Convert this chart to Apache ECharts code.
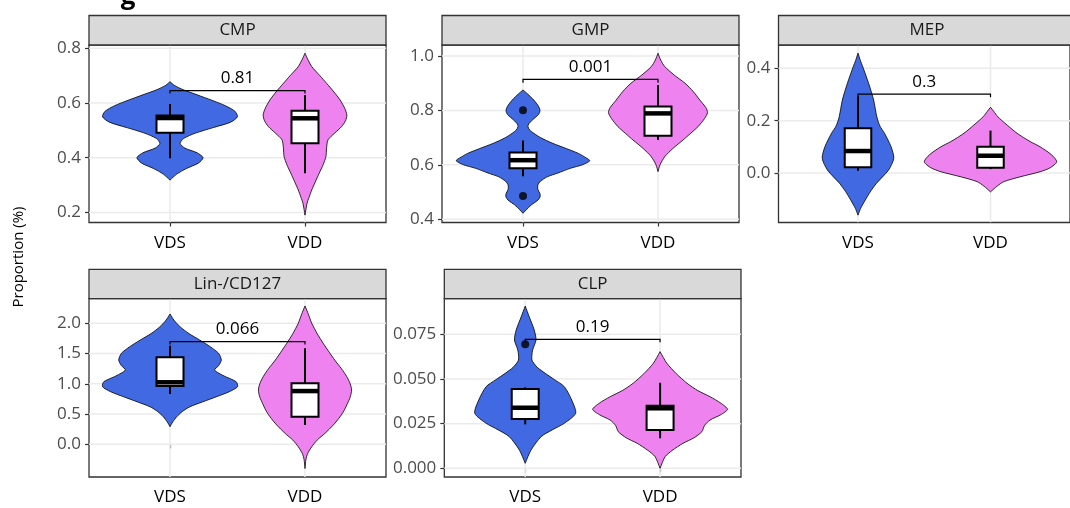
<!DOCTYPE html>
<html><head><meta charset="utf-8">
<script src="https://cdn.jsdelivr.net/npm/echarts@6/dist/echarts.min.js"></script>
<style>html,body{margin:0;padding:0;background:#fff}#c{width:1070px;height:508px}</style>
</head><body><div id="c"></div>
<script>
// ---------- DATA ----------
const categories = ['VDS', 'VDD'];
const panelNames = ['CMP', 'GMP', 'MEP', 'Lin-/CD127', 'CLP'];
const pValues = ['0.81', '0.001', '0.3', '0.066', '0.19'];

const cmpTicks = [0.2, 0.4, 0.6, 0.8];
const gmpTicks = [0.4, 0.6, 0.8, 1.0];
const mepTicks = [0.0, 0.2, 0.4];
const linTicks = [0.0, 0.5, 1.0, 1.5, 2.0];
const clpTicks = [0.000, 0.025, 0.050, 0.075];

const yMins = [0.163, 0.388, -0.189, -0.540, -0.00487];
const yMaxs = [0.812, 1.0404, 0.489, 2.408, 0.095];

// violin profiles: [value, half-width]
const cmpVdsViolin = [[0.678,0],[0.665,0.03],[0.648,0.1],[0.63,0.2],[0.61,0.31],[0.59,0.41],[0.57,0.48],[0.55,0.5],[0.53,0.45],[0.51,0.32],[0.49,0.19],[0.47,0.1],[0.452,0.075],[0.435,0.11],[0.418,0.2],[0.40,0.245],[0.38,0.21],[0.36,0.12],[0.34,0.05],[0.318,0]];
const cmpVddViolin = [[0.782,0],[0.76,0.02],[0.733,0.05],[0.70,0.11],[0.672,0.16],[0.64,0.215],[0.611,0.26],[0.58,0.295],[0.556,0.31],[0.535,0.3],[0.513,0.27],[0.49,0.22],[0.465,0.17],[0.435,0.16],[0.404,0.155],[0.375,0.135],[0.343,0.105],[0.31,0.075],[0.282,0.05],[0.255,0.03],[0.233,0.015],[0.19,0]];
const gmpVdsViolin = [[0.875,0],[0.86,0.035],[0.838,0.08],[0.815,0.115],[0.80,0.126],[0.785,0.115],[0.765,0.07],[0.75,0.042],[0.74,0.037],[0.728,0.05],[0.716,0.08],[0.70,0.13],[0.679,0.22],[0.66,0.32],[0.642,0.41],[0.625,0.47],[0.615,0.495],[0.60,0.44],[0.587,0.35],[0.57,0.26],[0.556,0.18],[0.54,0.13],[0.526,0.11],[0.51,0.11],[0.495,0.125],[0.483,0.127],[0.47,0.11],[0.452,0.06],[0.435,0.025],[0.422,0]];
const gmpVddViolin = [[1.01,0],[0.985,0.02],[0.961,0.05],[0.93,0.12],[0.90,0.2],[0.87,0.26],[0.838,0.31],[0.81,0.355],[0.792,0.367],[0.77,0.345],[0.74,0.296],[0.715,0.24],[0.691,0.185],[0.66,0.11],[0.63,0.05],[0.60,0.015],[0.575,0]];
const mepVdsViolin = [[0.458,0],[0.43,0.018],[0.406,0.036],[0.343,0.08],[0.279,0.118],[0.215,0.142],[0.18,0.165],[0.152,0.2],[0.1,0.25],[0.056,0.27],[0.011,0.23],[-0.039,0.14],[-0.07,0.095],[-0.103,0.055],[-0.135,0.02],[-0.161,0]];
const mepVddViolin = [[0.251,0],[0.235,0.025],[0.215,0.055],[0.19,0.11],[0.152,0.2],[0.12,0.3],[0.1,0.375],[0.07,0.46],[0.043,0.5],[0.02,0.45],[0.005,0.375],[-0.015,0.22],[-0.033,0.1],[-0.05,0.05],[-0.072,0]];
const linVdsViolin = [[2.154,0],[2.05,0.03],[1.944,0.074],[1.83,0.14],[1.724,0.22],[1.61,0.3],[1.504,0.36],[1.393,0.38],[1.30,0.36],[1.228,0.33],[1.13,0.4],[1.035,0.49],[0.952,0.5],[0.87,0.44],[0.787,0.345],[0.70,0.24],[0.621,0.148],[0.54,0.09],[0.456,0.05],[0.37,0.02],[0.291,0]];
const linVddViolin = [[2.286,0],[2.15,0.025],[2.0,0.05],[1.83,0.09],[1.669,0.135],[1.52,0.18],[1.393,0.22],[1.25,0.27],[1.117,0.31],[1.0,0.335],[0.897,0.345],[0.78,0.335],[0.678,0.315],[0.56,0.29],[0.456,0.26],[0.32,0.21],[0.182,0.148],[0.07,0.09],[-0.04,0.05],[-0.15,0.02],[-0.25,0.007],[-0.40,0]];
const clpVdsViolin = [[0.0908,0],[0.0848,0.03],[0.0774,0.067],[0.0718,0.08],[0.0662,0.055],[0.0606,0.05],[0.0565,0.09],[0.0532,0.148],[0.0495,0.22],[0.0457,0.29],[0.0382,0.345],[0.0308,0.374],[0.0252,0.29],[0.0215,0.2],[0.0177,0.118],[0.0102,0.043],[0.0028,0]];
const clpVddViolin = [[0.0653,0],[0.0588,0.05],[0.053,0.12],[0.0476,0.2],[0.0435,0.28],[0.0401,0.37],[0.0365,0.45],[0.033,0.5],[0.03,0.45],[0.027,0.37],[0.024,0.33],[0.0205,0.31],[0.017,0.25],[0.014,0.17],[0.01,0.09],[0.0065,0.037],[0.0,0]];

// box stats: [min, Q1, median, Q3, max]
const cmpVdsBox = [0.398, 0.491, 0.545, 0.554, 0.596];
const cmpVddBox = [0.343, 0.453, 0.544, 0.572, 0.629];
const gmpVdsBox = [0.558, 0.587, 0.617, 0.645, 0.689];
const gmpVddBox = [0.691, 0.707, 0.789, 0.814, 0.893];
const mepVdsBox = [0.009, 0.022, 0.084, 0.171, 0.292];
const mepVddBox = [0.015, 0.020, 0.066, 0.100, 0.162];
const linVdsBox = [0.831, 0.964, 1.025, 1.438, 1.63];
const linVddBox = [0.319, 0.456, 0.880, 1.008, 1.587];
const clpVdsBox = [0.0246, 0.0276, 0.0339, 0.0444, 0.0453];
const clpVddBox = [0.0168, 0.0214, 0.0336, 0.0350, 0.0479];

// outliers (VDS group)
const gmpVdsOutliers = [0.801, 0.485];
const clpVdsOutliers = [0.0694];

// significance brackets: [bar value, tip value]
const bracketLevels = [[0.645, 0.635], [0.914, 0.902], [0.301, 0.289], [1.696, 1.65], [0.0722, 0.0705]];

// ---------- LAYOUT ----------
const panels = [
  {left: 89, top: 45, width: 297, height: 177.5, strip: 29.5, dec: 1, ticks: cmpTicks},
  {left: 442, top: 45, width: 297, height: 177.5, strip: 29.5, dec: 1, ticks: gmpTicks},
  {left: 778.5, top: 45, width: 297, height: 177.5, strip: 29.5, dec: 1, ticks: mepTicks},
  {left: 89, top: 298.6, width: 297, height: 178.4, strip: 29.3, dec: 1, ticks: linTicks},
  {left: 444.3, top: 298.6, width: 296.7, height: 178.4, strip: 29.3, dec: 3, ticks: clpTicks}
];
const violins = [
  [cmpVdsViolin, cmpVddViolin], [gmpVdsViolin, gmpVddViolin], [mepVdsViolin, mepVddViolin],
  [linVdsViolin, linVddViolin], [clpVdsViolin, clpVddViolin]
];
const boxes = [
  [cmpVdsBox, cmpVddBox], [gmpVdsBox, gmpVddBox], [mepVdsBox, mepVddBox],
  [linVdsBox, linVddBox], [clpVdsBox, clpVddBox]
];
const outliers = [[[], []], [gmpVdsOutliers, []], [[], []], [[], []], [clpVdsOutliers, []]];
const groupColors = ['#4169E1', '#EE82EE'];
const FONT = "'Open Sans', 'Noto Sans', sans-serif";
const FS = 17;
const xMin = 0.4, xMax = 2.6;

const grid = [], xAxis = [], yAxis = [], series = [], graphic = [];

panels.forEach((p, i) => {
  grid.push({left: p.left, top: p.top, width: p.width, height: p.height, show: true,
    backgroundColor: '#fff', borderColor: '#333333', borderWidth: 1.3, containLabel: false});
  xAxis.push({type: 'value', gridIndex: i, min: xMin, max: xMax,
    axisLine: {show: false}, splitLine: {show: false},
    axisTick: {show: true, customValues: [1, 2], length: 4, lineStyle: {color: '#333333', width: 1.2}},
    axisLabel: {customValues: [1, 2], margin: 12, color: '#000', fontSize: FS, fontFamily: FONT,
      formatter: v => categories[Math.round(v) - 1]}});
  yAxis.push({type: 'value', gridIndex: i, min: yMins[i], max: yMaxs[i],
    axisLine: {show: false}, splitLine: {show: false},
    axisTick: {show: true, customValues: p.ticks, length: 4, lineStyle: {color: '#333333', width: 1.2}},
    axisLabel: {customValues: p.ticks, margin: 8, color: '#4D4D4D', fontSize: FS, fontFamily: FONT,
      formatter: v => v.toFixed(p.dec)}});

  // gridlines
  series.push({type: 'custom', xAxisIndex: i, yAxisIndex: i, z: 1, silent: true, clip: true,
    data: p.ticks.map(t => [t]).concat([[null]]),
    renderItem: (params, api) => {
      const lines = [];
      if (params.dataIndex < p.ticks.length) {
        const v = p.ticks[params.dataIndex];
        const a = api.coord([xMin, v]), b = api.coord([xMax, v]);
        lines.push({type: 'line', shape: {x1: a[0], y1: a[1], x2: b[0], y2: b[1]}, style: {stroke: '#EBEBEB', lineWidth: 1.5}});
      } else {
        [1, 2].forEach(x => {
          const a = api.coord([x, yMins[i]]), b = api.coord([x, yMaxs[i]]);
          lines.push({type: 'line', shape: {x1: a[0], y1: a[1], x2: b[0], y2: b[1]}, style: {stroke: '#EBEBEB', lineWidth: 1.5}});
        });
      }
      return {type: 'group', children: lines};
    }});

  // violins
  [0, 1].forEach(g => {
    const prof = violins[i][g];
    const center = g + 1;
    series.push({type: 'custom', xAxisIndex: i, yAxisIndex: i, z: 2, silent: true,
      data: [[center, prof[0][0]]],
      renderItem: (params, api) => {
        const right = prof.map(d => api.coord([center + d[1], d[0]]));
        const left = prof.map(d => api.coord([center - d[1], d[0]])).reverse();
        return {type: 'polygon', shape: {points: right.concat(left), smooth: 0.25},
          style: {fill: groupColors[g], stroke: '#000', lineWidth: 0.8}};
      }});
    // box
    const b = boxes[i][g];
    series.push({type: 'custom', xAxisIndex: i, yAxisIndex: i, z: 3, silent: true,
      data: [[center].concat(b)],
      renderItem: (params, api) => {
        const hw = 0.1;
        const pMax = api.coord([center, b[4]]), pQ3 = api.coord([center, b[3]]);
        const pQ1 = api.coord([center, b[1]]), pMin = api.coord([center, b[0]]);
        const tl = api.coord([center - hw, b[3]]), br = api.coord([center + hw, b[1]]);
        const ml = api.coord([center - hw, b[2]]), mr = api.coord([center + hw, b[2]]);
        return {type: 'group', children: [
          {type: 'line', shape: {x1: pMax[0], y1: pMax[1], x2: pQ3[0], y2: pQ3[1]}, style: {stroke: '#000', lineWidth: 2}},
          {type: 'line', shape: {x1: pQ1[0], y1: pQ1[1], x2: pMin[0], y2: pMin[1]}, style: {stroke: '#000', lineWidth: 2}},
          {type: 'rect', shape: {x: tl[0], y: tl[1], width: br[0] - tl[0], height: br[1] - tl[1]}, style: {fill: '#fff', stroke: '#000', lineWidth: 2}},
          {type: 'line', shape: {x1: ml[0], y1: ml[1], x2: mr[0], y2: mr[1]}, style: {stroke: '#000', lineWidth: 4.5}}
        ]};
      }});
    if (outliers[i][g].length) {
      series.push({type: 'scatter', xAxisIndex: i, yAxisIndex: i, z: 4, silent: true,
        symbol: 'circle', symbolSize: 8, itemStyle: {color: '#000'},
        data: outliers[i][g].map(v => [center, v])});
    }
  });

  // bracket
  const br = bracketLevels[i];
  series.push({type: 'custom', xAxisIndex: i, yAxisIndex: i, z: 5, silent: true,
    data: [[1.5, br[0]]],
    renderItem: (params, api) => {
      const pts = [api.coord([1, br[1]]), api.coord([1, br[0]]), api.coord([2, br[0]]), api.coord([2, br[1]])];
      const c = api.coord([1.5, br[0]]);
      return {type: 'group', children: [
        {type: 'polyline', shape: {points: pts}, style: {stroke: '#000', lineWidth: 1.2, fill: null}},
        {type: 'text', x: c[0], y: c[1] - 4, style: {text: pValues[i], align: 'center', verticalAlign: 'bottom',
          fill: '#000', fontSize: FS, fontFamily: FONT}}
      ]};
    }});

  // strip
  graphic.push({type: 'rect', z: 10, shape: {x: p.left, y: p.top - p.strip, width: p.width, height: p.strip},
    style: {fill: '#D9D9D9', stroke: '#333333', lineWidth: 1.3}});
  graphic.push({type: 'text', z: 11, x: p.left + p.width / 2, y: p.top - p.strip / 2,
    style: {text: panelNames[i], align: 'center', verticalAlign: 'middle', fill: '#1A1A1A', fontSize: FS, fontFamily: FONT}});
});

graphic.push({type: 'text', x: 18.5, y: 257, rotation: Math.PI / 2,
  style: {text: 'Proportion (%)', align: 'center', verticalAlign: 'middle', fill: '#000', fontSize: 15, fontFamily: FONT}});
graphic.push({type: 'text', x: 128, y: -16,
  style: {text: 'g', align: 'center', verticalAlign: 'top', fill: '#000', fontSize: 26, fontWeight: 'bold', fontFamily: FONT}});

const chart = echarts.init(document.getElementById('c'), null, {renderer: 'canvas'});
chart.setOption({animation: false, backgroundColor: '#fff', grid, xAxis, yAxis, series, graphic});
</script></body></html>
